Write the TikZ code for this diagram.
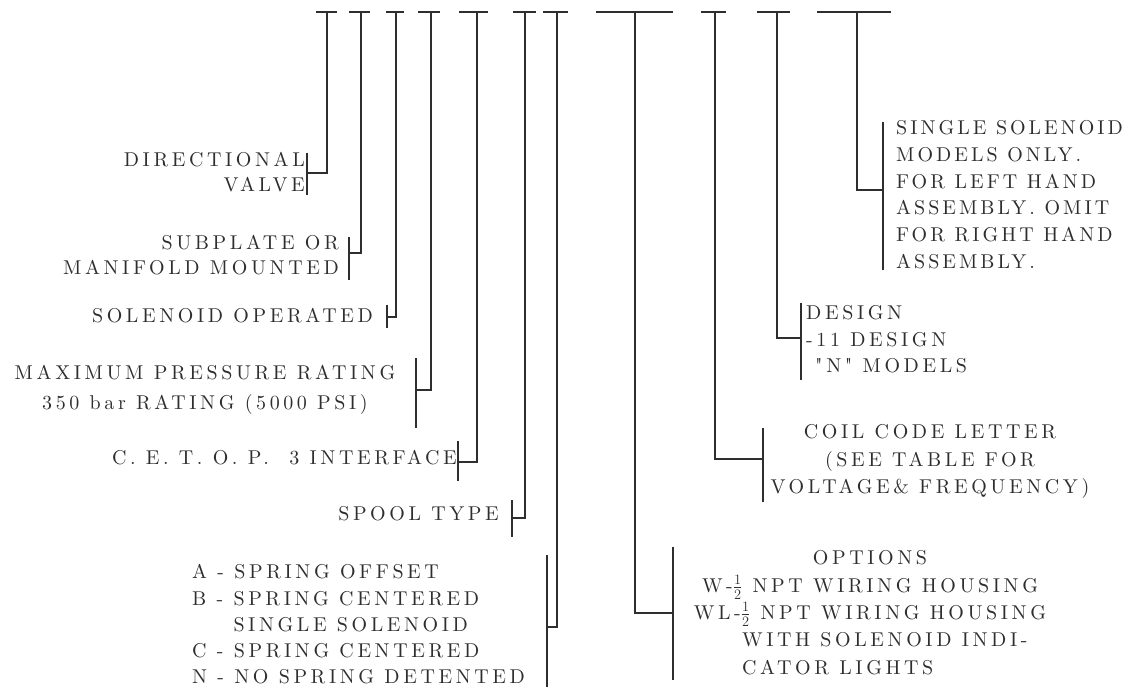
\documentclass[tikz,border=0pt]{standalone}
\usepackage{fontspec}
\newfontfamily\lab{lmroman10-regular.otf}[LetterSpace=18]
\newfontfamily\labn{lmroman10-regular.otf}[LetterSpace=15]
\definecolor{ink}{gray}{0.18}
\newcommand{\fs}[1]{\lab\fontsize{20}{#1}\selectfont}
\newcommand{\fsn}[1]{\labn\fontsize{20}{#1}\selectfont}
\newcommand{\tp}{\rule{0pt}{0.75em}}
\begin{document}
\begin{tikzpicture}[x=1pt,y=-1pt,
  ln/.style={draw=ink,line width=1.3pt},
  lbl/.style={inner sep=0pt,text=ink,font=\fs{26.7}}]
\useasboundingbox (0,0) rectangle (1127,691);
% top bars and stems
\foreach \a/\b/\s [count=\i] in {316/337/327,349/370/361,386/404/396,418/440/431,459/488/477,513/536/525,543/568/557,596/673/635,701/726/715,757/790/777,817/891/857}{
  \draw[ln] (\a,12) -- (\b,12);
  \coordinate (t\i) at (\s,12);
}
% brackets: x / top / bottom / tie
\foreach \x/\u/\v/\k [count=\i] in {307/153/195/173,349/237/280/253,387/305/328/317,416/358/428/390,458/441/481/462,512/500/537/518,547/555/687/627,673/547/680/613,763/428/502/459,801/303/380/338,883/122/270/190}{
  \draw[ln] (\x,\u) -- (\x,\v);
  \coordinate (k\i) at (\x,\k);
}
\foreach \i in {1,...,11}{ \draw[ln] (t\i) |- (k\i); }
% left labels
\node[lbl,anchor=north east,align=right,font=\fs{25}] (l1) at (305,151.5) {\tp DIRECTIONAL\\VALVE};
\node[lbl,anchor=north east,align=right,font=\fs{25}] (l2) at (339,234.5) {\tp SUBPLATE OR\\MANIFOLD MOUNTED};
\node[lbl,anchor=north east] (l3) at (373,307.5) {\tp SOLENOID OPERATED};
\node[lbl,anchor=north,align=center,font=\fs{30}] (l4) at (205,364.5) {\tp MAXIMUM PRESSURE RATING\\350 bar RATING (5000 PSI)};
\node[lbl,anchor=north east] (l5) at (457,449.5) {\tp C. E. T. O. P.\ \ 3 INTERFACE};
\node[lbl,anchor=north east] (l6) at (499,505.5) {\tp SPOOL TYPE};
\node[lbl,anchor=north west,align=left,font=\fs{26.3}] (l7) at (192,563.5) {\tp A - SPRING OFFSET\\B - SPRING CENTERED\\\phantom{B - }SINGLE SOLENOID\\C - SPRING CENTERED\\N - NO SPRING DETENTED};
% right labels
\node[lbl,anchor=north,align=center,font=\fs{27.5}] (l8) at (870,549.5) {\tp OPTIONS\\W-$\frac{1}{2}$ NPT WIRING HOUSING\\WL-$\frac{1}{2}$ NPT WIRING HOUSING};
\node[lbl,anchor=north west,align=left,font=\fs{28}] (l8b) at (742,631.5) {\tp WITH SOLENOID INDI-\\CATOR LIGHTS};
\node[lbl,anchor=north,align=center,font=\fs{27.5}] (l9) at (930,423.5) {\tp COIL CODE LETTER\\(SEE TABLE FOR\\VOLTAGE\& FREQUENCY)};
\node[lbl,anchor=north west,align=left,font=\fs{26.5}] (l10) at (806,304.5) {\tp DESIGN\\-11 DESIGN\\\hspace{9pt}"N" MODELS};
\node[lbl,anchor=north west,align=left,font=\fsn{26.7}] (l11) at (896,119.5) {\tp SINGLE SOLENOID\\MODELS ONLY.\\FOR LEFT HAND\\ASSEMBLY. OMIT\\FOR RIGHT HAND\\ASSEMBLY.};
\end{tikzpicture}
\end{document}
